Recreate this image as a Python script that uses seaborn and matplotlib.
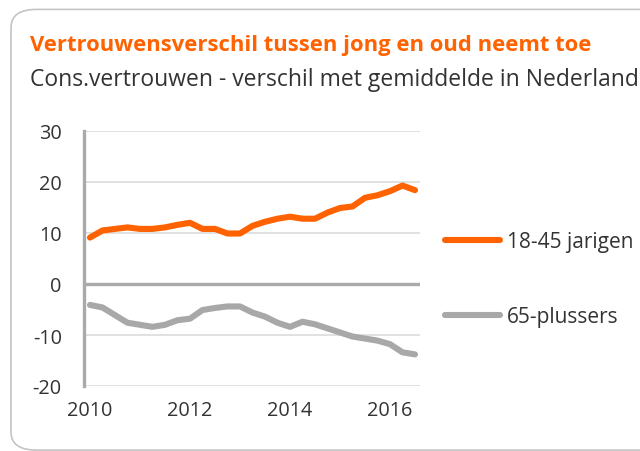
import pandas as pd
import matplotlib.pyplot as plt
import seaborn as sns
from matplotlib.patches import FancyBboxPatch

quarters = pd.date_range("2010-01-01", periods=27, freq="QS")
jong = [9.1, 10.5, 10.8, 11.1, 10.8, 10.8, 11.1, 11.6, 12.0, 10.8, 10.8, 9.9, 9.9, 11.4,
        12.2, 12.8, 13.2, 12.8, 12.8, 14.0, 14.9, 15.2, 16.9, 17.4, 18.2, 19.3, 18.4]
oud = [-4.1, -4.6, -6.1, -7.6, -8.0, -8.4, -8.0, -7.1, -6.8, -5.1, -4.7, -4.4, -4.4, -5.6,
       -6.4, -7.6, -8.4, -7.4, -7.9, -8.7, -9.5, -10.3, -10.7, -11.1, -11.8, -13.4, -13.8]
series_names = ["18-45 jarigen", "65-plussers"]
year_ticks = [2010, 2012, 2014, 2016]
y_ticks = [30, 20, 10, 0, -10, -20]

jaar = quarters.year + (quarters.month - 1) / 12
df = pd.DataFrame({"jaar": list(jaar) * 2,
                   "waarde": jong + oud,
                   "groep": [series_names[0]] * 27 + [series_names[1]] * 27})

sns.set_theme(style="white")
plt.rcParams["font.family"] = ["Open Sans", "DejaVu Sans"]
plt.rcParams["axes.unicode_minus"] = False
txt = "#333333"

fig = plt.figure(figsize=(6.4, 4.52), dpi=100)
fig.patches.append(FancyBboxPatch((11 / 640, 0.002), 1.2, 0.975, boxstyle="round,pad=0,rounding_size=0.04",
                                  transform=fig.transFigure, fc="none", ec="#c4c4c4", lw=1.2))

ax = fig.add_axes([84 / 640, 1 - 387 / 452, 336 / 640, 255 / 452])
for v in y_ticks:
    if v == 0:
        ax.axhline(v, color="#aaaaaa", lw=2.4, zorder=1)
    else:
        ax.axhline(v, color="#dcdcdc", lw=1.2, zorder=1)

sns.lineplot(data=df, x="jaar", y="waarde", hue="groep", palette=["#FF6200", "#A8A8A8"],
             linewidth=4.4, ax=ax, zorder=3)

ax.set_xlim(2009.88, 2016.6)
ax.set_ylim(-20, 30)
ax.set_xticks(year_ticks)
ax.set_yticks(y_ticks)
ax.set_xlabel("")
ax.set_ylabel("")
ax.tick_params(axis="both", length=0, labelsize=14.3, colors=txt)
ax.tick_params(axis="y", pad=16)
ax.tick_params(axis="x", pad=10)
for s in ["top", "right", "bottom"]:
    ax.spines[s].set_visible(False)
ax.spines["left"].set_color("#aaaaaa")
ax.spines["left"].set_linewidth(2.4)

ax.legend(loc="center left", bbox_to_anchor=(1.02, 0.42), frameon=False, fontsize=15,
          handlelength=2.6, handletextpad=0.35, labelspacing=2.6, labelcolor=txt)

fig.text(30 / 640, 1 - 51 / 452, "Vertrouwensverschil tussen jong en oud neemt toe",
         color="#FF6200", fontsize=15.8, fontweight="bold", ha="left", va="baseline")
fig.text(30 / 640, 1 - 86 / 452, "Cons.vertrouwen - verschil met gemiddelde in Nederland",
         color=txt, fontsize=16.5, ha="left", va="baseline")

fig.savefig("out.png", dpi=100)
